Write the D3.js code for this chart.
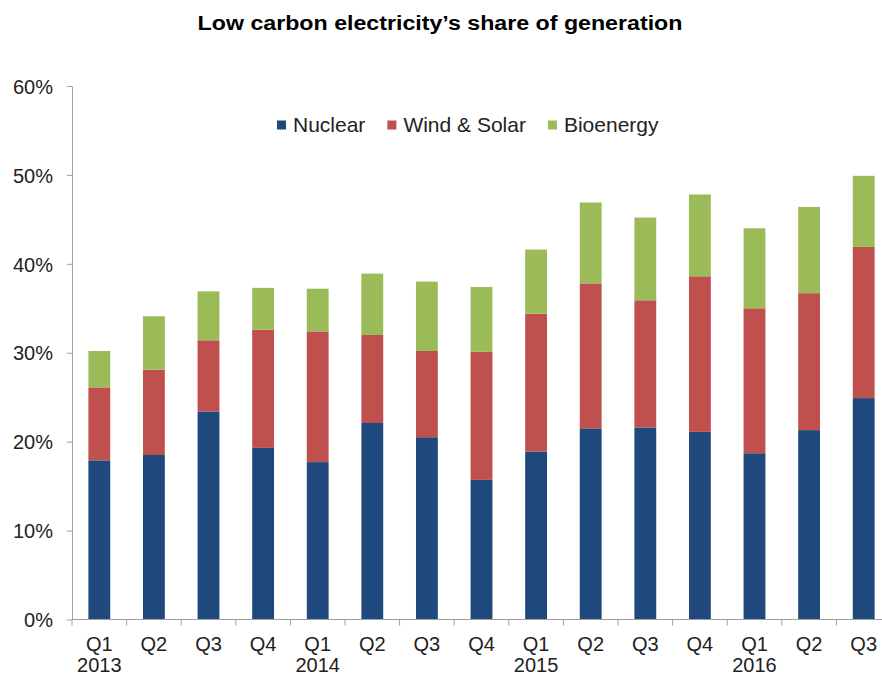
<!DOCTYPE html>
<html>
<head>
<meta charset="utf-8">
<script src="https://cdn.jsdelivr.net/npm/d3@7"></script>
<style>
  body { margin: 0; background: #fff; }
  text { font-family: "Liberation Sans", Arial, sans-serif; }
</style>
</head>
<body>
<div id="chart"></div>
<script>
// data (percent of generation)
var quarters = ["Q1","Q2","Q3","Q4","Q1","Q2","Q3","Q4","Q1","Q2","Q3","Q4","Q1","Q2","Q3"]
var years = ["2013","","","","2014","","","","2015","","","","2016","",""]
var nuclear = [17.9, 18.5, 23.4, 19.3, 17.7, 22.1, 20.5, 15.7, 18.9, 21.5, 21.6, 21.1, 18.7, 21.3, 24.9]
var windSolar = [8.2, 9.6, 8.0, 13.3, 14.7, 9.9, 9.7, 14.4, 15.5, 16.3, 14.3, 17.5, 16.3, 15.4, 17.0]
var bioenergy = [4.1, 6.0, 5.5, 4.7, 4.8, 6.9, 7.8, 7.3, 7.2, 9.1, 9.3, 9.2, 9.0, 9.7, 8.0]
var seriesNames = ["Nuclear", "Wind & Solar", "Bioenergy"]
var yTicks = [0, 10, 20, 30, 40, 50, 60]

var colors = ["#1F497D", "#C0504D", "#9BBB59"]
var axisColor = "#a0a0a0"

var width = 882, height = 677
var plot = {left: 72, right: 891, top: 86, bottom: 619.5}

var svg = d3.select("#chart")
  .append("svg")
    .attr("width", width)
    .attr("height", height)

// build rows for the stack
var rows = quarters.map(function(q, i) {
  return {i: i, "Nuclear": nuclear[i], "Wind & Solar": windSolar[i], "Bioenergy": bioenergy[i]}
})
var stacked = d3.stack().keys(seriesNames)(rows)

var x = d3.scaleBand()
  .domain(d3.range(quarters.length))
  .range([plot.left, plot.right])
  .paddingInner(0.6)
  .paddingOuter(0.3)

var y = d3.scaleLinear()
  .domain([0, 60])
  .range([plot.bottom, plot.top])

// title
svg.append("text")
  .attr("transform", "translate(440,30) scale(1.16,1)")
  .attr("text-anchor", "middle")
  .style("font-size", "20px")
  .style("font-weight", "bold")
  .style("fill", "#000")
  .text("Low carbon electricity\u2019s share of generation")

// bars
svg.append("g")
  .selectAll("g")
  .data(stacked)
  .enter()
  .append("g")
    .style("fill", function(d, k) { return colors[k] })
  .selectAll("rect")
  .data(function(d) { return d })
  .enter()
  .append("rect")
    .attr("x", function(d) { return x(d.data.i) })
    .attr("y", function(d) { return y(d[1]) })
    .attr("height", function(d) { return y(d[0]) - y(d[1]) })
    .attr("width", x.bandwidth())

// y axis
var yAxis = svg.append("g")
  .attr("transform", "translate(" + plot.left + ",0)")
  .call(d3.axisLeft(y)
    .tickValues(yTicks)
    .tickFormat(function(d) { return d + "%" })
    .tickSize(5)
    .tickSizeOuter(0)
    .tickPadding(14))
yAxis.selectAll("path, line").style("stroke", axisColor)
yAxis.selectAll("text")
  .style("font-size", "20px")
  .style("fill", "#222")
  .attr("dy", "0.36em")

// x axis line + ticks at band edges
var step = x.step()
var edges = d3.range(quarters.length + 1).map(function(i) {
  return x(0) - step * 0.3 + i * step
})
svg.append("line")
  .attr("x1", plot.left).attr("x2", width)
  .attr("y1", plot.bottom).attr("y2", plot.bottom)
  .style("stroke", axisColor)
svg.append("g")
  .selectAll("line")
  .data(edges)
  .enter()
  .append("line")
    .attr("x1", function(d) { return d }).attr("x2", function(d) { return d })
    .attr("y1", plot.bottom).attr("y2", plot.bottom + 6)
    .style("stroke", axisColor)

// x labels: quarter and year
var labels = svg.append("g")
labels.selectAll("text.q")
  .data(quarters)
  .enter()
  .append("text")
    .attr("class", "q")
    .attr("x", function(d, i) { return x(i) + x.bandwidth() / 2 })
    .attr("y", 651)
    .attr("text-anchor", "middle")
    .style("font-size", "20px")
    .style("fill", "#222")
    .text(function(d) { return d })
labels.selectAll("text.yr")
  .data(years)
  .enter()
  .append("text")
    .attr("class", "yr")
    .attr("x", function(d, i) { return x(i) + x.bandwidth() / 2 })
    .attr("y", 672)
    .attr("text-anchor", "middle")
    .style("font-size", "20px")
    .style("fill", "#222")
    .text(function(d) { return d })

// legend
var legend = svg.append("g")
var lx = 277
seriesNames.forEach(function(name, k) {
  legend.append("rect")
    .attr("x", lx).attr("y", 120.5)
    .attr("width", 9).attr("height", 9)
    .style("fill", colors[k])
  var t = legend.append("text")
    .attr("x", lx + 16).attr("y", 132)
    .style("font-size", "21px")
    .style("fill", "#222")
    .text(name)
  lx += 16 + t.node().getComputedTextLength() + 22
})
</script>
</body>
</html>
